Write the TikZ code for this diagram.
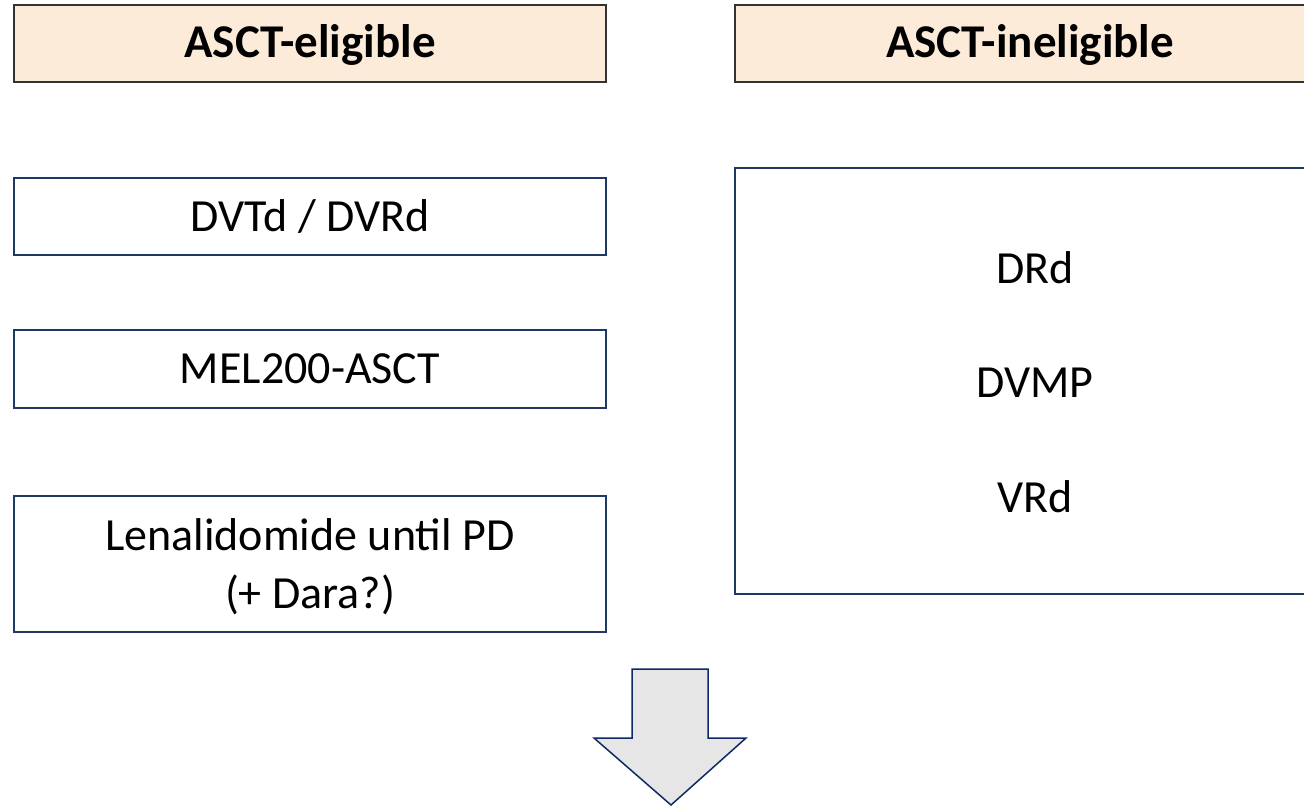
\documentclass[tikz,border=0pt]{standalone}
\usepackage{fontspec}
\setmainfont{Carlito}
\definecolor{hdrfill}{HTML}{FDEBD9}
\definecolor{hdrline}{HTML}{333333}
\definecolor{navy}{HTML}{203864}
\definecolor{arrnavy}{HTML}{0E2A66}
\definecolor{arrfill}{HTML}{E6E6E6}
\begin{document}
\begin{tikzpicture}[x=1pt,y=-1pt,
  hdr/.style={draw=hdrline,fill=hdrfill,line width=1.2pt},
  box/.style={draw=navy,line width=1.3pt},
  lbl/.style={font=\fontsize{46}{58}\selectfont,align=center,inner sep=0pt},
  hlbl/.style={font=\fontsize{47}{56}\selectfont\bfseries,inner sep=0pt}]
\useasboundingbox (0,0) rectangle (1304,807);
% headers
\draw[hdr] (14,5) rectangle (606,82);
\node[hlbl] (h1) at (310,45) {ASCT-eligible};
\draw[hdr] (735,5) rectangle (1330,82);
\node[hlbl] (h2) at (1030,45) {ASCT-ineligible};
% left boxes
\draw[box] (14,178) rectangle (606,255);
\node[lbl] (b1) at (310,216) {DVTd / DVRd};
\draw[box] (14,330) rectangle (606,408);
\node[lbl] (b2) at (310,369) {MEL200-ASCT};
\draw[box] (14,496) rectangle (606,632);
\node[lbl] (b3) at (310,567) {Lenalidomide until PD\\(+ Dara?)};
% right box
\draw[box] (735,168) rectangle (1340,594);
\node[lbl] (r1) at (1035,268) {DRd};
\node[lbl] (r2) at (1035,383) {DVMP};
\node[lbl] (r3) at (1035,497) {VRd};
% arrow
\draw[draw=arrnavy,fill=arrfill,line width=1.5pt,line join=miter]
  (632,669) -- (708,669) -- (708,738) -- (746,738) -- (671,805) -- (594,738) -- (632,738) -- cycle;
\end{tikzpicture}
\end{document}
